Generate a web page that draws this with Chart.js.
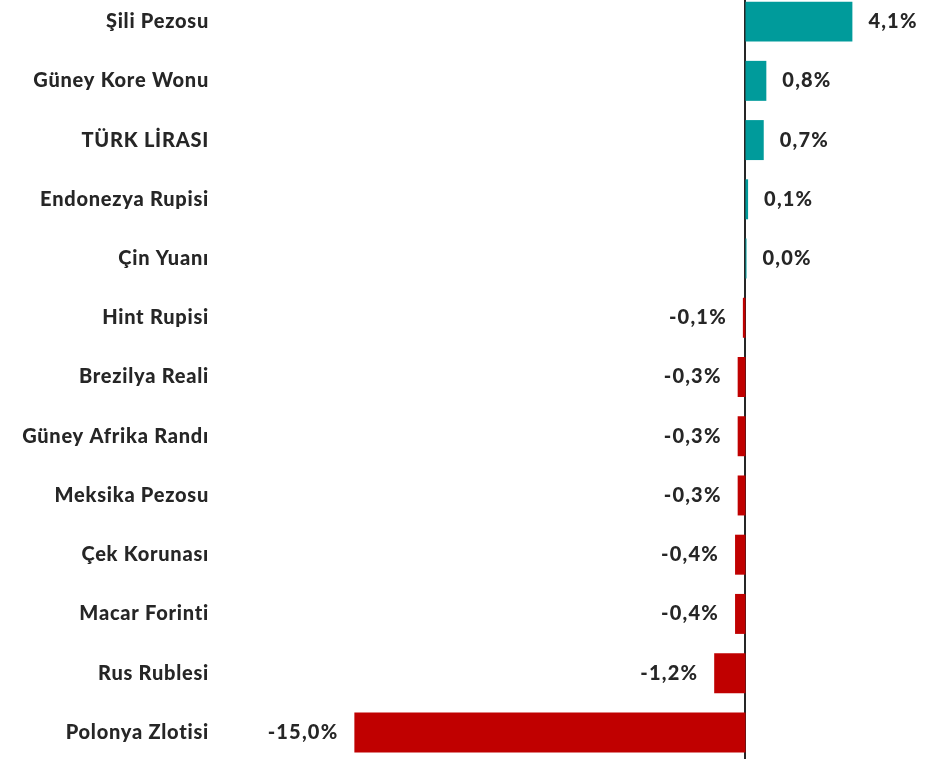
<!DOCTYPE html>
<html>
<head>
<meta charset="utf-8">
<script src="https://cdn.jsdelivr.net/npm/chart.js@4/dist/chart.umd.min.js"></script>
<style>
  html, body { margin: 0; padding: 0; background: #fff; overflow: hidden; }
  #wrap { position: absolute; left: 0; top: -8px; width: 928px; height: 770px; }
</style>
</head>
<body>
<div id="wrap"><canvas id="c" width="928" height="770"></canvas></div>
<script>
// ── DATA ──
const currencies = [
  'Şili Pezosu', 'Güney Kore Wonu', 'TÜRK LİRASI', 'Endonezya Rupisi', 'Çin Yuanı',
  'Hint Rupisi', 'Brezilya Reali', 'Güney Afrika Randı', 'Meksika Pezosu',
  'Çek Korunası', 'Macar Forinti', 'Rus Rublesi', 'Polonya Zlotisi'
];
const changes = [4.1, 0.8, 0.7, 0.1, 0.04, -0.1, -0.3, -0.3, -0.3, -0.4, -0.4, -1.2, -15.0];

const TEAL = '#009b9b';
const RED  = '#c00000';
const TEXT = '#262626';
const FONT = "Lato, 'Open Sans', sans-serif";

// slightly wider text, closer to the original's Calibri
const spacing = {
  id: 'spacing',
  beforeDraw(chart) { chart.ctx.letterSpacing = '0.75px'; }
};

// zero line over full height (under the bars) + value labels next to bar ends
const valueLabels = {
  id: 'valueLabels',
  beforeDatasetsDraw(chart) {
    const { ctx, scales: { x } } = chart;
    const zx = Math.round(x.getPixelForValue(0));
    ctx.save();
    ctx.strokeStyle = TEXT;
    ctx.lineWidth = 2;
    ctx.beginPath();
    ctx.moveTo(zx, 0);
    ctx.lineTo(zx, chart.height);
    ctx.stroke();
    ctx.restore();
  },
  afterDatasetsDraw(chart) {
    const { ctx } = chart;
    const meta = chart.getDatasetMeta(0);
    ctx.save();
    ctx.font = `900 20px ${FONT}`;
    ctx.letterSpacing = '1.2px';
    ctx.fillStyle = TEXT;
    ctx.textBaseline = 'middle';
    meta.data.forEach((bar, i) => {
      const v = changes[i];
      const txt = v.toFixed(1).replace('.', ',') + '%';
      if (v >= 0) {
        ctx.textAlign = 'left';
        ctx.fillText(txt, bar.x + 16, bar.y);
      } else {
        ctx.textAlign = 'right';
        ctx.fillText(txt, bar.x - 16, bar.y);
      }
    });
    ctx.restore();
  }
};

new Chart(document.getElementById('c').getContext('2d'), {
  type: 'bar',
  data: {
    labels: currencies,
    datasets: [{
      data: changes,
      backgroundColor: changes.map(v => v >= 0 ? TEAL : RED),
      borderWidth: 0,
      categoryPercentage: 1,
      barPercentage: 0.675
    }]
  },
  options: {
    indexAxis: 'y',
    responsive: false,
    animation: false,
    layout: { padding: 0 },
    plugins: { legend: { display: false }, tooltip: { enabled: false } },
    scales: {
      x: {
        display: false,
        min: -20,
        max: 7
      },
      y: {
        afterFit: s => { s.width = 224; s.paddingTop = 0; s.paddingBottom = 0; },
        ticks: {
          color: TEXT,
          padding: 15,
          font: { family: FONT, size: 20, weight: 900 }
        },
        grid: { display: false, drawTicks: false },
        border: { display: false }
      }
    }
  },
  plugins: [spacing, valueLabels]
});
</script>
</body>
</html>
